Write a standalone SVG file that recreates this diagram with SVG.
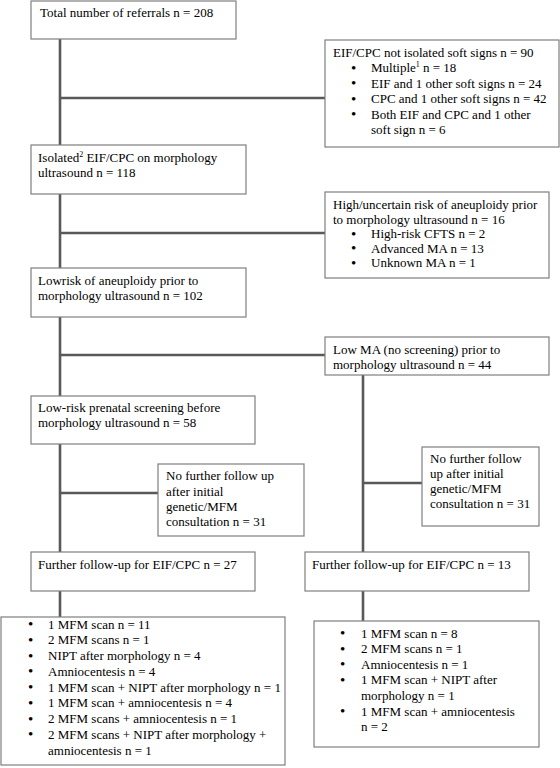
<svg xmlns="http://www.w3.org/2000/svg" width="560" height="768" viewBox="0 0 560 768">
<style>
  .box { fill: #ffffff; stroke: #7f7f7f; stroke-width: 1.2; }
  .conn { stroke: #595959; stroke-width: 2.6; fill: none; }
  text { font-family: "Liberation Serif", "Times New Roman", serif; font-size: 13px; fill: #000000; }
  .sup { font-size: 8px; }
  .bul { font-size: 15px; }
</style>
<rect x="0" y="0" width="560" height="768" fill="#ffffff"/>
<g id="connectors">
  <line class="conn" x1="60" y1="39" x2="60" y2="617"/>
  <line class="conn" x1="60" y1="98" x2="325" y2="98"/>
  <line class="conn" x1="60" y1="233" x2="325" y2="233"/>
  <line class="conn" x1="60" y1="355" x2="325" y2="355"/>
  <line class="conn" x1="60" y1="493" x2="158" y2="493"/>
  <line class="conn" x1="363" y1="375" x2="363" y2="621"/>
  <line class="conn" x1="363" y1="483" x2="422" y2="483"/>
</g>
<g id="total">
  <rect class="box" x="31" y="1" width="205" height="38"/>
  <text x="40" y="16.5">Total number of referrals n = 208</text>
</g>
<g id="not-isolated">
  <rect class="box" x="325" y="40" width="234" height="107"/>
  <text x="333" y="56.5">EIF/CPC not isolated soft signs n = 90</text>
  <text class="bul" x="351" y="72.5">•</text><text x="371" y="72">Multiple<tspan class="sup" dy="-5">1</tspan><tspan dy="5"> n = 18</tspan></text>
  <text class="bul" x="351" y="88">•</text><text x="371" y="87.5">EIF and 1 other soft signs  n = 24</text>
  <text class="bul" x="351" y="103.5">•</text><text x="371" y="103">CPC and 1 other soft signs  n = 42</text>
  <text class="bul" x="351" y="119">•</text><text x="371" y="118.5">Both EIF and CPC and 1 other</text>
  <text x="371" y="134">soft sign n = 6</text>
</g>
<g id="isolated">
  <rect class="box" x="31" y="145" width="215" height="49"/>
  <text x="38" y="161.5">Isolated<tspan class="sup" dy="-5">2</tspan><tspan dy="5"> EIF/CPC on morphology</tspan></text>
  <text x="38" y="176.5">ultrasound n = 118</text>
</g>
<g id="high-risk">
  <rect class="box" x="325" y="192" width="224" height="86"/>
  <text x="333" y="208.5">High/uncertain risk of aneuploidy prior</text>
  <text x="333" y="223.5">to morphology ultrasound n = 16</text>
  <text class="bul" x="351" y="238.5">•</text><text x="371" y="238">High-risk CFTS n = 2</text>
  <text class="bul" x="351" y="253">•</text><text x="371" y="252.5">Advanced MA n = 13</text>
  <text class="bul" x="351" y="267.5">•</text><text x="371" y="267">Unknown MA n = 1</text>
</g>
<g id="low-risk">
  <rect class="box" x="31" y="268" width="215" height="49"/>
  <text x="38" y="284.5">Lowrisk of aneuploidy prior to</text>
  <text x="38" y="299.5">morphology ultrasound n = 102</text>
</g>
<g id="low-ma">
  <rect class="box" x="325" y="337" width="224" height="38"/>
  <text x="333" y="353.5">Low MA (no screening) prior to</text>
  <text x="333" y="368.5">morphology ultrasound n = 44</text>
</g>
<g id="low-risk-screening">
  <rect class="box" x="31" y="396" width="224" height="48"/>
  <text x="38" y="411.5">Low-risk prenatal screening before</text>
  <text x="38" y="426.5">morphology ultrasound n = 58</text>
</g>
<g id="no-follow-left">
  <rect class="box" x="158" y="464" width="146" height="72"/>
  <text x="166" y="480">No further follow up</text>
  <text x="166" y="495.5">after initial</text>
  <text x="166" y="511">genetic/MFM</text>
  <text x="166" y="526">consultation n = 31</text>
</g>
<g id="no-follow-right">
  <rect class="box" x="422" y="447" width="117" height="79"/>
  <text x="430" y="462.5">No further follow</text>
  <text x="430" y="477.5">up after initial</text>
  <text x="430" y="492.5">genetic/MFM</text>
  <text x="430" y="507.5">consultation n = 31</text>
</g>
<g id="follow-left">
  <rect class="box" x="31" y="552" width="224" height="39"/>
  <text x="38" y="568.5">Further follow-up for EIF/CPC n = 27</text>
</g>
<g id="follow-right">
  <rect class="box" x="305" y="552" width="224" height="39"/>
  <text x="312" y="568.5">Further follow-up for EIF/CPC n = 13</text>
</g>
<g id="outcomes-left">
  <rect class="box" x="1" y="617" width="284" height="148"/>
  <text class="bul" x="28" y="629">•</text><text x="48" y="628.5">1 MFM scan n = 11</text>
  <text class="bul" x="28" y="644.7">•</text><text x="48" y="644.2">2 MFM scans n = 1</text>
  <text class="bul" x="28" y="660.5">•</text><text x="48" y="660">NIPT after morphology n = 4</text>
  <text class="bul" x="28" y="676.2">•</text><text x="48" y="675.7">Amniocentesis n = 4</text>
  <text class="bul" x="28" y="692">•</text><text x="48" y="691.5">1 MFM scan + NIPT after morphology n = 1</text>
  <text class="bul" x="28" y="707.7">•</text><text x="48" y="707.2">1 MFM scan + amniocentesis n = 4</text>
  <text class="bul" x="28" y="723.5">•</text><text x="48" y="723">2 MFM scans + amniocentesis n = 1</text>
  <text class="bul" x="28" y="739.2">•</text><text x="48" y="738.7">2 MFM scans + NIPT after morphology +</text>
  <text x="48" y="754.5">amniocentesis n = 1</text>
</g>
<g id="outcomes-right">
  <rect class="box" x="314" y="621" width="225" height="126"/>
  <text class="bul" x="340" y="638">•</text><text x="361" y="637.5">1 MFM scan n = 8</text>
  <text class="bul" x="340" y="653.6">•</text><text x="361" y="653.1">2 MFM scans n = 1</text>
  <text class="bul" x="340" y="669.2">•</text><text x="361" y="668.7">Amniocentesis n = 1</text>
  <text class="bul" x="340" y="684.8">•</text><text x="361" y="684.3">1 MFM scan + NIPT after</text>
  <text x="361" y="699.9">morphology n = 1</text>
  <text class="bul" x="340" y="716">•</text><text x="361" y="715.5">1 MFM scan + amniocentesis</text>
  <text x="361" y="731.1">n = 2</text>
</g>
</svg>
